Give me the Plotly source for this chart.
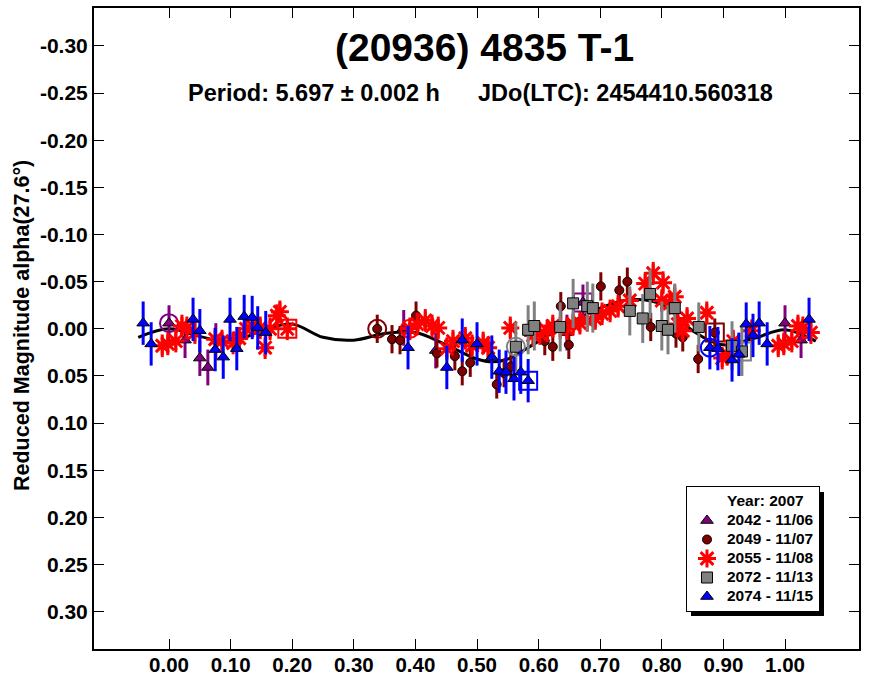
import plotly.graph_objects as go

# ---------------- data ----------------
phase_2042 = [0.000, 0.026, 0.050, 0.063, 0.076, 0.381, 0.433, 0.646, 0.672]
mag_2042 = [-0.006, 0.012, 0.031, 0.041, 0.013, -0.001, 0.023, 0.004, -0.028]

phase_2049 = [0.338, 0.362, 0.375, 0.401, 0.435, 0.464, 0.476, 0.489, 0.532, 0.544, 0.555,
              0.610, 0.623, 0.636, 0.649, 0.701, 0.731, 0.744, 0.782, 0.823, 0.834, 0.859, 0.886]
mag_2049 = [0.000, 0.011, 0.012, -0.014, 0.026, 0.029, 0.045, 0.036, 0.059, 0.047, 0.040,
            0.013, 0.019, -0.024, 0.017, -0.045, -0.041, -0.050, -0.002, 0.005, 0.009, 0.032, 0.004]

phase_2055 = [0.391, 0.403, 0.416, 0.427, 0.437, 0.451, 0.461, 0.481, 0.492, 0.510,
              0.518, 0.554, 0.591, 0.602, 0.614, 0.623, 0.635, 0.646, 0.656, 0.667,
              0.679, 0.692, 0.703, 0.716, 0.729, 0.748, 0.773, 0.786, 0.800, 0.802,
              0.813, 0.821, 0.826, 0.834, 0.841, 0.873, 0.898, 0.906, 0.916, 0.946,
              0.989, 0.998, 0.011, 0.021, 0.029, 0.042, 0.075, 0.086, 0.104, 0.114,
              0.125, 0.136, 0.148, 0.156, 0.164, 0.175, 0.180, 0.192]
mag_2055 = [0.000, -0.005, -0.009, -0.003, -0.001, 0.021, 0.013, 0.010, 0.018, 0.015,
            0.020, -0.001, 0.007, 0.005, 0.002, -0.003, -0.001, 0.000, -0.005, -0.006,
            -0.009, -0.011, -0.016, -0.019, -0.024, -0.030, -0.048, -0.059, -0.030, -0.049,
            -0.027, -0.034, -0.005, 0.002, -0.011, -0.017, 0.031, 0.027, 0.013, 0.002,
            0.018, 0.016, 0.013, -0.003, -0.001, 0.004, 0.011, 0.013, 0.015, 0.010,
            0.000, -0.003, -0.001, 0.020, 0.000, -0.014, -0.018, 0.000]

phase_2072 = [0.563, 0.583, 0.593, 0.635, 0.656, 0.679, 0.688, 0.748, 0.769, 0.781,
              0.800, 0.810, 0.821, 0.860, 0.914, 0.930]
mag_2072 = [0.019, 0.001, -0.003, -0.002, -0.027, -0.024, -0.022, -0.019, -0.011, -0.037,
            -0.003, 0.001, -0.022, -0.002, 0.018, 0.024]

phase_2074 = [0.878, 0.891, 0.914, 0.925, 0.937, 0.948, 0.958, 0.971,
              0.039, 0.050, 0.075, 0.088, 0.099, 0.110, 0.122, 0.135, 0.144, 0.157,
              0.388, 0.451, 0.476, 0.500, 0.524, 0.536, 0.547, 0.560, 0.571, 0.583]
mag_2074 = [0.020, 0.021, 0.033, 0.027, -0.005, 0.007, -0.006, 0.016,
            -0.010, 0.002, 0.022, 0.030, -0.010, 0.021, -0.013, -0.012, -0.001, 0.004,
            0.020, 0.041, 0.012, 0.016, 0.030, 0.045, 0.046, 0.053, 0.046, 0.055]

err_2042 = 0.019
err_2049 = 0.015
err_2055 = 0.012
err_2072 = 0.026
err_2074 = 0.023

fit_phase = [-0.05, 0.00, 0.05, 0.10, 0.15, 0.20, 0.25, 0.30, 0.35, 0.40, 0.45, 0.50,
             0.525, 0.55, 0.60, 0.65, 0.70, 0.75, 0.80, 0.85, 0.90, 0.95, 1.00, 1.05]
fit_mag = [0.009, 0.000, 0.008, 0.014, 0.002, -0.005, 0.009, 0.012, 0.005, 0.004, 0.017, 0.032,
           0.035, 0.032, 0.013, -0.006, -0.022, -0.031, -0.026, 0.002, 0.017, 0.010, 0.001, 0.013]

session_names = ["2042 - 11/06", "2049 - 11/07", "2055 - 11/08", "2072 - 11/13", "2074 - 11/15"]
legend_title = "Year: 2007"

x_tickvals = [0.0, 0.1, 0.2, 0.3, 0.4, 0.5, 0.6, 0.7, 0.8, 0.9, 1.0]
x_ticktext = ["0.00", "0.10", "0.20", "0.30", "0.40", "0.50", "0.60", "0.70", "0.80", "0.90", "1.00"]
y_tickvals = [-0.30, -0.25, -0.20, -0.15, -0.10, -0.05, 0.00, 0.05, 0.10, 0.15, 0.20, 0.25, 0.30]
y_ticktext = ["-0.30", "-0.25", "-0.20", "-0.15", "-0.10", "-0.05", "0.00",
              "0.05", "0.10", "0.15", "0.20", "0.25", "0.30"]

title_text = "(20936) 4835 T-1"
period_text = "Period: 5.697 ± 0.002 h"
jd_text = "JDo(LTC): 2454410.560318"
ytitle_text = "Reduced Magnitude alpha(27.6°)"

# ---------------- figure ----------------
W, H = 871, 677
ML, MR, MT, MB = 94, 12, 8, 28
PW, PH = W - ML - MR, H - MT - MB


def px2paper_x(px):
    return (px - ML) / PW


def px2paper_y(py):
    return (H - MB - py) / PH


FONT = "Liberation Sans, Arial, sans-serif"
LEG_TXT = "<span style='font-size:15.5px'>%s</span>"


def wrap(ph, mg):
    xs, ys = [], []
    for p, m in zip(ph, mg):
        xs.append(p)
        ys.append(m)
        if p + 1 <= 1.045:
            xs.append(p + 1)
            ys.append(m)
        if p - 1 >= -0.045:
            xs.append(p - 1)
            ys.append(m)
    return xs, ys


fig = go.Figure()

# fitted curve
fig.add_trace(go.Scatter(x=fit_phase, y=fit_mag, mode="lines", line=dict(color="black", width=3, shape="spline"),
                         showlegend=False, hoverinfo="skip"))

# legend header (no symbol)
fig.add_trace(go.Scatter(x=[None], y=[None], mode="markers",
                         marker=dict(size=0, color="rgba(0,0,0,0)", line=dict(width=0)),
                         name=LEG_TXT % legend_title, hoverinfo="skip"))

styles = [
    (phase_2042, mag_2042, err_2042, "#800080", "triangle-up", 11),
    (phase_2049, mag_2049, err_2049, "#800000", "circle", 9),
    (phase_2055, mag_2055, err_2055, "#FF0000", "asterisk-open", 15),
    (phase_2072, mag_2072, err_2072, "#808080", "square", 11),
    (phase_2074, mag_2074, err_2074, "#0000FF", "triangle-up", 11),
]

for name, (ph, mg, er, col, sym, sz) in zip(session_names, styles):
    xs, ys = wrap(ph, mg)
    if sym == "asterisk-open":
        mk = dict(symbol=sym, size=sz, color=col, line=dict(color=col, width=3))
    else:
        mk = dict(symbol=sym, size=sz, color=col, line=dict(color="black", width=1))
    fig.add_trace(go.Scatter(
        x=xs, y=ys, mode="markers", name=LEG_TXT % name, marker=mk,
        error_y=dict(type="constant", value=er, color=col, thickness=3, width=0),
    ))
    # first point of the session: open circle; last point: open square
    fig.add_trace(go.Scatter(x=[ph[0]], y=[mg[0]], mode="markers", showlegend=False,
                             marker=dict(symbol="circle-open", size=18, color=col, line=dict(color=col, width=2))))
    fig.add_trace(go.Scatter(x=[ph[-1]], y=[mg[-1]], mode="markers", showlegend=False,
                             marker=dict(symbol="square-open", size=18, color=col, line=dict(color=col, width=2))))

axis_common = dict(showline=True, linecolor="black", linewidth=2, mirror="ticks", ticks="inside",
                   ticklen=10, tickwidth=1, tickcolor="black", showgrid=False, zeroline=False,
                   automargin=False)

LEG_R, LEG_B = 820, 612        # legend box right / bottom edge (px)
LEG_W, LEG_H = 133, 124        # rendered legend box size (px)
SH = 4                         # shadow offset (px)

fig.update_layout(
    width=W, height=H,
    margin=dict(l=ML, r=MR, t=MT, b=MB, pad=0, autoexpand=False),
    paper_bgcolor="white", plot_bgcolor="white",
    xaxis=dict(range=[-0.1218, 1.1201], tickvals=x_tickvals, ticktext=x_ticktext,
               ticklabelstandoff=-4,
               tickfont=dict(family=FONT, size=20.5, color="black", weight="bold"), **axis_common),
    yaxis=dict(range=[0.3396, -0.3403], tickvals=y_tickvals, ticktext=y_ticktext,
               tickfont=dict(family=FONT, size=21, color="black", weight="bold"), **axis_common),
    legend=dict(x=px2paper_x(LEG_R), y=px2paper_y(LEG_B), xanchor="right", yanchor="bottom",
                bgcolor="white", bordercolor="black", borderwidth=1, traceorder="normal",
                itemwidth=30, tracegroupgap=0,
                font=dict(family=FONT, size=12, color="black", weight="bold")),
    showlegend=True,
)

# legend drop shadow
fig.add_shape(type="rect", xref="paper", yref="paper", layer="above",
              x0=px2paper_x(LEG_R - LEG_W + SH), x1=px2paper_x(LEG_R + SH),
              y0=px2paper_y(LEG_B + SH), y1=px2paper_y(LEG_B - LEG_H + SH),
              fillcolor="black", line=dict(width=0))

fig.add_annotation(text=title_text, xref="paper", yref="paper", x=px2paper_x(484), y=px2paper_y(48),
                   xanchor="center", yanchor="middle", showarrow=False,
                   font=dict(family=FONT, size=39, color="black", weight="bold"))
fig.add_annotation(text=period_text, xref="paper", yref="paper", x=px2paper_x(186), y=px2paper_y(93),
                   xanchor="left", yanchor="middle", showarrow=False,
                   font=dict(family=FONT, size=23.5, color="black", weight="bold"))
fig.add_annotation(text=jd_text, xref="paper", yref="paper", x=px2paper_x(476), y=px2paper_y(93),
                   xanchor="left", yanchor="middle", showarrow=False,
                   font=dict(family=FONT, size=23.5, color="black", weight="bold"))
fig.add_annotation(text=ytitle_text, xref="paper", yref="paper", x=px2paper_x(22), y=px2paper_y(326),
                   xanchor="center", yanchor="middle", textangle=-90, showarrow=False,
                   font=dict(family=FONT, size=21.5, color="black", weight="bold"))

fig.write_html("out.html", post_script="document.body.style.margin='0';",
               config={"displayModeBar": False})
